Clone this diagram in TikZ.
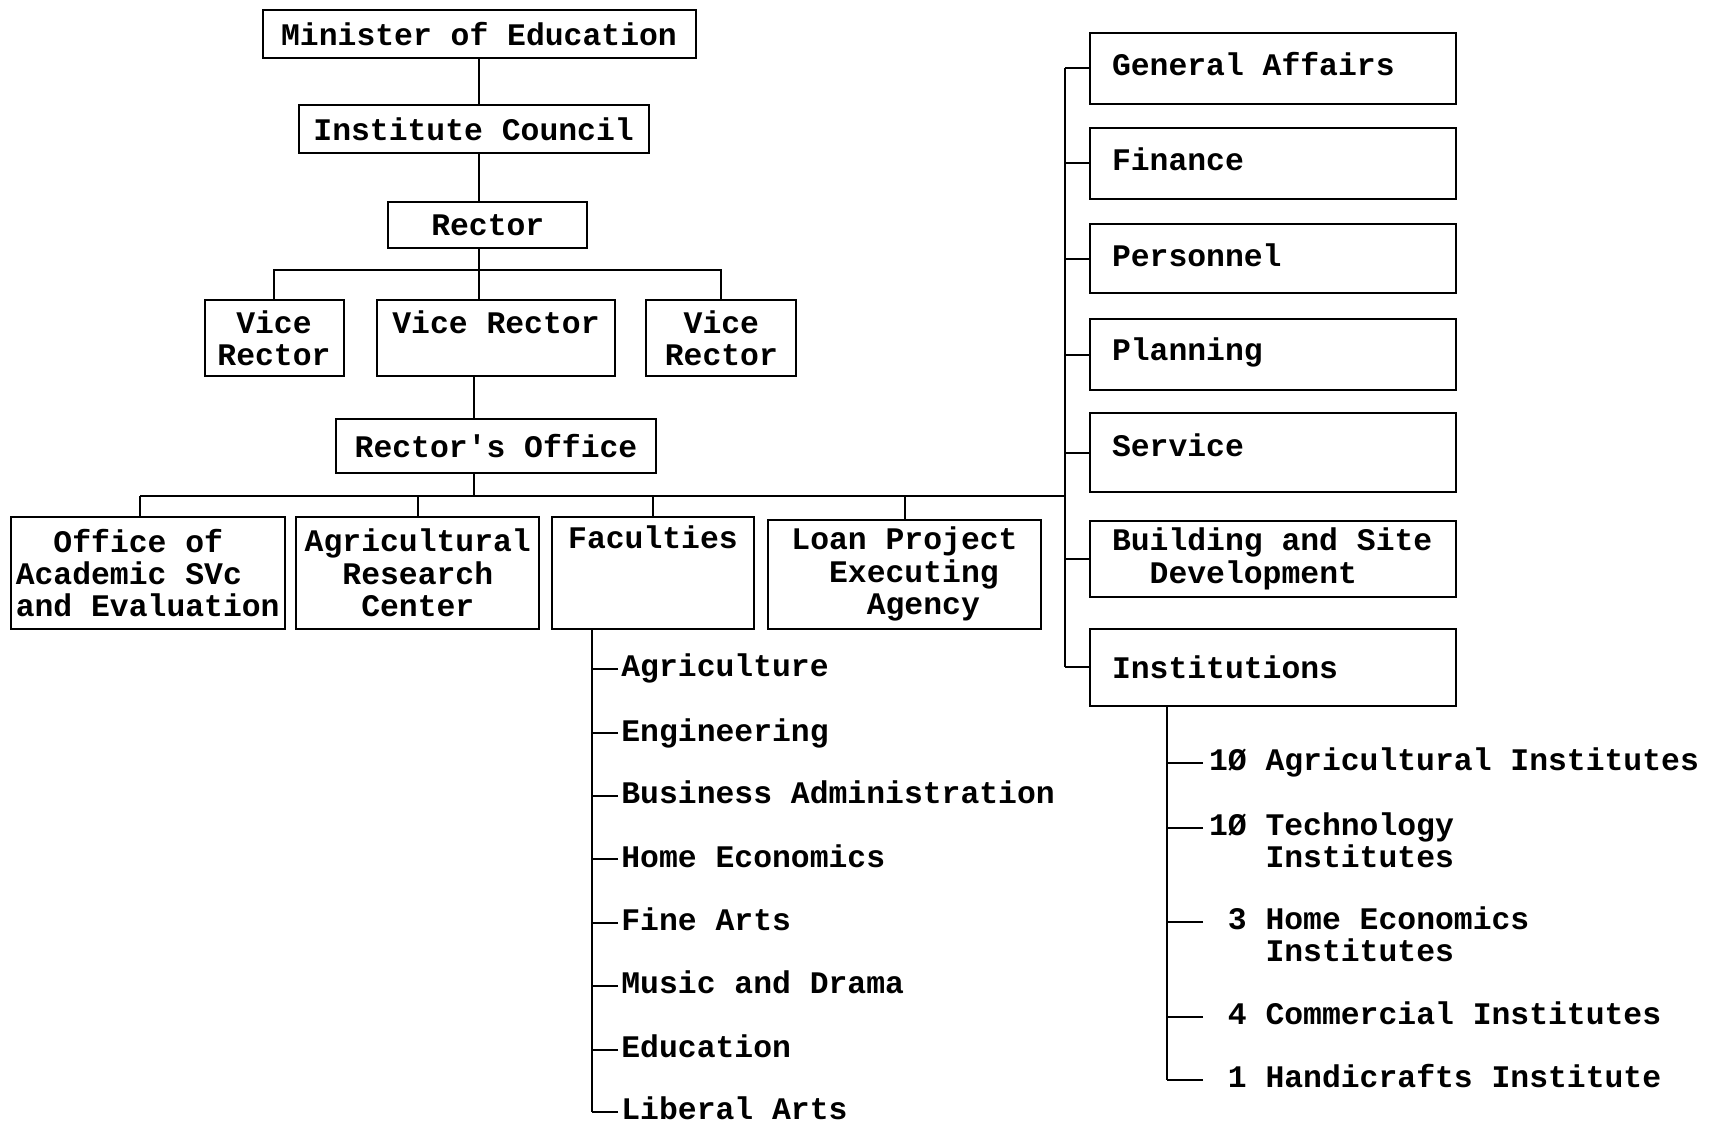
\documentclass[tikz,border=0pt]{standalone}
\usepackage{fontspec}
\setmainfont{Liberation Mono}[Ligatures=TeXOff]
\usepackage{tikz}
\usetikzlibrary{positioning}

\tikzset{
  unit/.style={draw, line width=1pt, black, align=center, inner sep=2pt,
    font=\fontsize{15.7pt}{16.2pt}\selectfont\bfseries},
  office/.style={unit, align=flush left, text width=161pt, inner xsep=11pt},
  entry/.style={anchor=base west, inner ysep=0pt, inner xsep=1.5pt, align=left,
    font=\fontsize{15.7pt}{16.2pt}\selectfont\bfseries},
  tie/.style={line width=1pt, black}
}

\begin{document}
\begin{tikzpicture}[x=0.5pt, y=-0.5pt]
\useasboundingbox (0,0) rectangle (1715,1123);

%top of the chart
\node[unit, minimum width=216.5pt, minimum height=24pt] (minister) at (479,34) {Minister of Education};
\node[unit, minimum width=175pt, minimum height=24pt] (council) at (473.6,129) {Institute Council};
\node[unit, minimum width=99.5pt, minimum height=23pt] (rector) at (487.8,225.3) {Rector};

\node[unit, minimum width=69.5pt, minimum height=38.3pt] (viceA) at (274,338) {Vice\\Rector};
\node[unit, minimum width=118.7pt, minimum height=38.3pt] (viceB) at (496,338) {Vice Rector\\\phantom{Rector}};
\node[unit, minimum width=75pt, minimum height=38.3pt] (viceC) at (721.4,338) {Vice\\Rector};

\node[unit, minimum width=160.3pt, minimum height=26.8pt] (roffice) at (496,445.7) {Rector's Office};

%main row
\node[unit, align=left, minimum width=136.8pt, minimum height=55.8pt] (academic) at (147.7,573) {\phantom{Of}Office of\\Academic SVc\\and Evaluation};
\node[unit, minimum width=121.4pt, minimum height=55.8pt] (research) at (417.8,573) {Agricultural\\Research\\Center};
\node[unit, minimum width=100.7pt, minimum height=55.8pt] (faculties) at (653,573) {Faculties\\\phantom{Ag}\\\phantom{Ag}};
\node[unit, align=left, minimum width=136.8pt, minimum height=54.7pt] (loan) at (904.5,574.2) {Loan Project\\\phantom{Lo}Executing\\\phantom{Loan}Agency};

%right column
\node[office, minimum height=35.5pt, text depth=4.4pt] (affairs) at (1273,68.4) {General Affairs};
\node[office, minimum height=35.5pt, text depth=4.4pt] (finance) at (1273,163.5) {Finance};
\node[office, minimum height=34.5pt, text depth=3.3pt] (personnel) at (1273,258.7) {Personnel};
\node[office, minimum height=35.5pt, text depth=5.4pt] (planning) at (1273,355) {Planning};
\node[office, minimum height=39.4pt, text depth=7.7pt] (service) at (1273,452.8) {Service};
\node[office, minimum height=38.3pt] (building) at (1273,558.9) {Building and Site\\\phantom{Bu}Development};
\node[office, minimum height=38.3pt] (institutions) at (1273,667.2) {Institutions};

%faculties
\node[entry] (agriculture) at (618,676.7) {Agriculture};
\node[entry] (engineering) at (618,741.2) {Engineering};
\node[entry] (business) at (618,803.5) {Business Administration};
\node[entry] (homeec) at (618,867) {Home Economics};
\node[entry] (finearts) at (618,930.5) {Fine Arts};
\node[entry] (music) at (618,993.9) {Music and Drama};
\node[entry] (education) at (618,1057.3) {Education};
\node[entry] (liberal) at (618,1119.7) {Liberal Arts};

%institutes
\node[entry, inner xsep=2.8pt] (agrinst) at (1203,770.8) {1Ø Agricultural Institutes};
\node[entry, inner xsep=2.8pt] (techinst) at (1203,867.7) {1Ø Technology\\\phantom{1Ø }Institutes};
\node[entry, inner xsep=2.8pt] (homeinst) at (1203,961.7) {\phantom{1}3 Home Economics\\\phantom{1Ø }Institutes};
\node[entry, inner xsep=2.8pt] (comminst) at (1203,1024.5) {\phantom{1}4 Commercial Institutes};
\node[entry, inner xsep=2.8pt] (handinst) at (1203,1087.9) {\phantom{1}1 Handicrafts Institute};

%lines
\coordinate (vbar) at (479,270);
\coordinate (hub) at (473.6,495.5);
\coordinate (spine) at (1065,495.5);
\coordinate (fstem) at (591.7,0);
\coordinate (istem) at (1167,0);

\draw[tie] (minister.south) -- (minister.south |- council.north);
\draw[tie] (minister.south |- council.south) -- (minister.south |- rector.north);
\draw[tie] (minister.south |- rector.south) -- (minister.south |- viceB.north);
\draw[tie] (viceA.north) -- (viceA.north |- vbar) -- (viceC.north |- vbar) -- (viceC.north);
\draw[tie] (hub |- viceB.south) -- (hub |- roffice.north);
\draw[tie] (hub |- roffice.south) -- (hub);
\draw[tie] ([xshift=-3.85pt]academic.north |- hub) -- (spine);
\draw[tie] ([xshift=-3.85pt]academic.north) -- ([xshift=-3.85pt]academic.north |- hub);
\foreach \n in {research,faculties,loan}
  \draw[tie] (\n.north) -- (\n.north |- hub);

\draw[tie] (affairs.west -| spine) -- (institutions.west -| spine);
\foreach \n in {affairs,finance,personnel,planning,service,building,institutions}
  \draw[tie] (\n.west) -- (\n.west -| spine);

\draw[tie] (faculties.south -| fstem) -- ([yshift=3.9pt]liberal.base west -| fstem);
\foreach \n in {agriculture,engineering,business,homeec,finearts,music,education,liberal}
  \draw[tie] ([yshift=3.9pt]\n.base west) -- ([yshift=3.9pt]\n.base west -| fstem);

\draw[tie] (institutions.south -| istem) -- ([yshift=3.9pt]handinst.base west -| istem);
\foreach \n/\s in {agrinst/3.9,techinst/20.1,homeinst/20.1,comminst/3.9,handinst/3.9}
  \draw[tie] ([yshift=\s pt]\n.base west) -- ([yshift=\s pt]\n.base west -| istem);

\end{tikzpicture}
\end{document}
